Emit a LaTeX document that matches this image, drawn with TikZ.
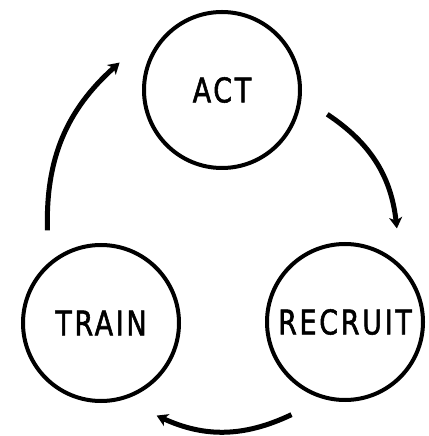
\documentclass[tikz,border=0pt]{standalone}
\usepackage{fontspec}
\setmainfont{DejaVu Sans Condensed}[FakeBold=1.6,FakeStretch=0.88,LetterSpace=8]
\usepackage{tikz}
\usetikzlibrary{arrows.meta}

\begin{document}
\begin{tikzpicture}[x=1pt,y=1pt,
  stage/.style={draw, circle, line width=4pt, minimum size=156pt, inner sep=0pt,
    font=\fontsize{34}{34}\selectfont},
  flow/.style={line width=5pt, -{Stealth[length=11pt,width=13pt,inset=3pt]}}]
  \useasboundingbox (0,0) rectangle (428,436);
  % Stages
  \node[stage] (act) at (222,346) {ACT};
  \node[stage] (train) at (101,113) {TRAIN};
  \node[stage] (recruit) at (345,114) {RECRUIT};
  % Arrow ends round the circles
  \path (act) ++(-13:108) coordinate (act out) (act) ++(165:106) coordinate (act in);
  \path (recruit) ++(61:107) coordinate (recruit in) (recruit) ++(240:107) coordinate (recruit out);
  \path (train) ++(-59:108) coordinate (train in) (train) ++(120:107) coordinate (train out);
  % Cycle
  \draw[flow] (act out) to[bend left=25] (recruit in);
  \draw[flow] (recruit out) to[bend left=25] (train in);
  \draw[flow] (train out) to[bend left=25] (act in);
\end{tikzpicture}
\end{document}
